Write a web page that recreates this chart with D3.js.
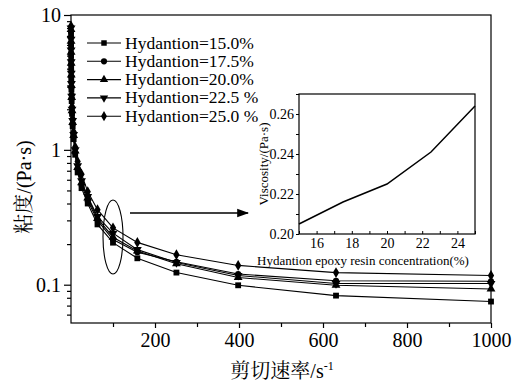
<!DOCTYPE html>
<html>
<head>
<meta charset="utf-8">
<script src="https://cdn.jsdelivr.net/npm/d3@7"></script>
<style>
  body { margin: 0; background: #fff; }
</style>
</head>
<body>
<svg id="chart" width="513" height="383"></svg>
<script>
// shear rate (1/s), log sweep
const shearRate = [0.1, 0.158, 0.251, 0.398, 0.631, 1, 1.58, 2.51, 3.98, 6.31, 10, 15.8, 25.1, 39.8, 63.1, 100, 158, 251, 398, 631, 1000];
// viscosity (Pa·s) per hydantoin content
const visc150 = [7.2, 6.0, 5.0, 4.1, 3.4, 2.8, 2.3, 1.85, 1.5, 1.2, 0.92, 0.68, 0.52, 0.40, 0.28, 0.205, 0.157, 0.123, 0.099, 0.083, 0.075];
const visc175 = [7.5, 6.2, 5.2, 4.3, 3.5, 2.9, 2.4, 1.9, 1.55, 1.25, 0.95, 0.72, 0.55, 0.42, 0.30, 0.216, 0.174, 0.148, 0.120, 0.107, 0.106];
const visc200 = [7.8, 6.4, 5.3, 4.4, 3.6, 3.0, 2.45, 1.95, 1.6, 1.28, 0.98, 0.74, 0.57, 0.44, 0.31, 0.225, 0.178, 0.143, 0.113, 0.099, 0.093];
const visc225 = [8.0, 6.6, 5.5, 4.5, 3.7, 3.1, 2.5, 2.0, 1.65, 1.3, 1.0, 0.76, 0.59, 0.45, 0.32, 0.241, 0.182, 0.146, 0.117, 0.102, 0.102];
const visc250 = [8.3, 6.9, 5.7, 4.7, 3.9, 3.2, 2.6, 2.1, 1.7, 1.36, 1.05, 0.82, 0.66, 0.49, 0.36, 0.264, 0.206, 0.167, 0.139, 0.123, 0.117];
const seriesNames = ["Hydantion=15.0%", "Hydantion=17.5%", "Hydantion=20.0%", "Hydantion=22.5 %", "Hydantion=25.0 %"];
const xTicks = [200, 400, 600, 800, 1000];
const yTicks = [0.1, 1, 10];

// inset: viscosity at 100 1/s vs concentration
const concentration = [15, 17.5, 20, 22.5, 25];
const viscAt100 = [0.205, 0.216, 0.225, 0.241, 0.264];
const insetXTicks = [16, 18, 20, 22, 24];
const insetYTicks = [0.20, 0.22, 0.24, 0.26];

const allVisc = [visc150, visc175, visc200, visc225, visc250];
const symbols = [d3.symbolSquare, d3.symbolCircle, d3.symbolTriangle, "down", d3.symbolDiamond];
const SERIF = '"Liberation Serif"';
const CJK = '"Noto Serif CJK SC"';

const svg = d3.select("#chart");

const x = d3.scaleLinear().domain([0, 1000]).range([71, 491]);
const y = d3.scaleLog().domain([0.052, 10]).range([323, 15]);

// frame
svg.append("rect").attr("x", 71).attr("y", 15).attr("width", 420).attr("height", 308)
  .attr("fill", "none").attr("stroke", "#000").attr("stroke-width", 1.2);

// x axis
const xMinor = d3.range(100, 1000, 200);
svg.append("g").attr("transform", "translate(0,323)")
  .call(d3.axisBottom(x).tickValues(xMinor).tickSize(4).tickFormat(""))
  .call(g => g.select(".domain").remove());
svg.append("g").attr("transform", "translate(0,323)")
  .call(d3.axisBottom(x).tickValues(xTicks).tickSize(5).tickPadding(5).tickFormat(d3.format("d")))
  .call(g => g.select(".domain").remove())
  .call(g => g.selectAll("text").attr("font-size", 20).attr("font-family", SERIF));

// y axis
const yMinor = [];
[0.01, 0.1, 1].forEach(b => { for (let k = 2; k <= 9; k++) { const v = b * k; if (v >= 0.052 && v <= 10) yMinor.push(v); } });
svg.append("g").attr("transform", "translate(71,0)")
  .call(d3.axisLeft(y).tickValues(yMinor).tickSize(4).tickFormat(""))
  .call(g => g.select(".domain").remove());
svg.append("g").attr("transform", "translate(71,0)")
  .call(d3.axisLeft(y).tickValues(yTicks).tickSize(7).tickPadding(3).tickFormat(d => d))
  .call(g => g.select(".domain").remove())
  .call(g => g.selectAll("text").attr("font-size", 20).attr("font-family", SERIF));
svg.selectAll(".tick line").attr("stroke", "#000").attr("stroke-width", 1.2);

// series
const line = d3.line().x(d => x(d[0])).y(d => y(d[1]));
function marker(sel, s, sz) {
  sel.attr("d", d3.symbol(s === "down" ? d3.symbolTriangle : s, sz)());
}
allVisc.forEach((vals, i) => {
  const pts = shearRate.map((r, j) => [r, vals[j]]);
  svg.append("path").datum(pts).attr("d", line).attr("fill", "none")
    .attr("stroke", "#000").attr("stroke-width", 1.1);
  const sz = i === 1 ? 30 : 34;
  svg.append("g").selectAll("path").data(pts).join("path")
    .call(marker, symbols[i], sz)
    .attr("transform", d => `translate(${x(d[0])},${y(d[1])})` + (symbols[i] === "down" ? " rotate(180)" : ""))
    .attr("fill", "#000");
});

// legend
seriesNames.forEach((n, i) => {
  const ly = 43 + i * 18.3;
  svg.append("line").attr("x1", 87).attr("x2", 121).attr("y1", ly).attr("y2", ly)
    .attr("stroke", "#000").attr("stroke-width", 1.1);
  svg.append("path").call(marker, symbols[i], 30)
    .attr("transform", `translate(104,${ly})` + (symbols[i] === "down" ? " rotate(180)" : ""));
  svg.append("text").attr("x", 125).attr("y", ly + 5.5).attr("font-size", 17.5)
    .attr("font-family", SERIF).text(n);
});

// axis titles
const xt = svg.append("text").attr("x", 282).attr("y", 378).attr("text-anchor", "middle")
  .attr("font-size", 20).attr("font-family", SERIF);
xt.append("tspan").attr("font-family", CJK).text("剪切速率");
xt.append("tspan").text("/s");
xt.append("tspan").attr("font-size", 12).attr("dy", -8).text("-1");
const yt = svg.append("text").attr("transform", "translate(31,187) rotate(-90)").attr("text-anchor", "middle")
  .attr("font-size", 20).attr("font-family", SERIF);
yt.append("tspan").attr("font-family", CJK).text("粘度");
yt.append("tspan").text("/(Pa·s)");

// highlight ellipse + arrow
svg.append("ellipse").attr("cx", x(100)).attr("cy", 237).attr("rx", 10).attr("ry", 37)
  .attr("fill", "none").attr("stroke", "#000").attr("stroke-width", 1.1);
svg.append("defs").append("marker").attr("id", "ah").attr("viewBox", "0 0 10 10")
  .attr("refX", 9).attr("refY", 5).attr("markerWidth", 8).attr("markerHeight", 8).attr("orient", "auto")
  .append("path").attr("d", "M0,1.5L10,5L0,8.5Z").attr("fill", "#000");
svg.append("line").attr("x1", 130).attr("x2", 248).attr("y1", 213).attr("y2", 213)
  .attr("stroke", "#000").attr("stroke-width", 1.5).attr("marker-end", "url(#ah)");

// inset
const ix = d3.scaleLinear().domain([15, 25]).range([299, 475]);
const iy = d3.scaleLinear().domain([0.20, 0.27]).range([234, 94]);
svg.append("rect").attr("x", 299).attr("y", 94).attr("width", 176).attr("height", 140)
  .attr("fill", "#fff").attr("stroke", "#000").attr("stroke-width", 1.2);
svg.append("g").attr("transform", "translate(0,234)")
  .call(d3.axisBottom(ix).tickValues(d3.range(15, 25.1, 1)).tickSize(-3).tickFormat(""))
  .call(g => g.select(".domain").remove());
svg.append("g").attr("transform", "translate(0,234)")
  .call(d3.axisBottom(ix).tickValues(insetXTicks).tickSize(0).tickPadding(4))
  .call(g => g.select(".domain").remove())
  .call(g => g.selectAll("text").attr("font-size", 14).attr("font-family", SERIF));
svg.append("g").attr("transform", "translate(299,0)")
  .call(d3.axisLeft(iy).tickValues(d3.range(0.20, 0.271, 0.01)).tickSize(3).tickFormat(""))
  .call(g => g.select(".domain").remove());
svg.append("g").attr("transform", "translate(299,0)")
  .call(d3.axisLeft(iy).tickValues(insetYTicks).tickSize(3).tickPadding(2).tickFormat(d3.format(".2f")))
  .call(g => g.select(".domain").remove())
  .call(g => g.selectAll("text").attr("font-size", 14).attr("font-family", SERIF));
svg.selectAll(".tick line").attr("stroke", "#000");
svg.append("path").datum(concentration.map((c, i) => [c, viscAt100[i]]))
  .attr("d", d3.line().x(d => ix(d[0])).y(d => iy(d[1])))
  .attr("fill", "none").attr("stroke", "#000").attr("stroke-width", 1.5);
svg.append("text").attr("x", 363).attr("y", 265).attr("text-anchor", "middle").attr("font-size", 13)
  .attr("font-family", SERIF).text("Hydantion epoxy resin concentration(%)");
svg.append("text").attr("transform", "translate(268,164) rotate(-90)").attr("text-anchor", "middle").attr("font-size", 13)
  .attr("font-family", SERIF).text("Viscosity/(Pa·s)");
</script>
</body>
</html>
